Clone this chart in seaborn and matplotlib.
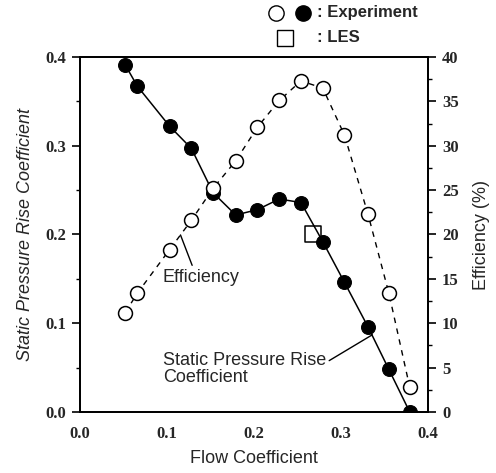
import matplotlib
matplotlib.use("Agg")
import matplotlib.pyplot as plt
from matplotlib.lines import Line2D
from matplotlib.ticker import MultipleLocator
import seaborn as sns
import pandas as pd

# Data
flow = [0.052, 0.066, 0.103, 0.128, 0.153, 0.179, 0.204, 0.229, 0.254, 0.279, 0.304, 0.331, 0.355, 0.379]
pressure = [0.391, 0.367, 0.322, 0.297, 0.247, 0.222, 0.228, 0.240, 0.236, 0.192, 0.146, 0.096, 0.048, 0.0]
efficiency = [11.2, 13.4, 18.3, 21.6, 25.2, 28.3, 32.1, 35.1, 37.3, 36.5, 31.2, 22.3, 13.4, 2.8]
les_flow = [0.268]
les_pressure = [0.200]

x_ticks = [0.0, 0.1, 0.2, 0.3, 0.4]
y_ticks = [0.0, 0.1, 0.2, 0.3, 0.4]
eff_ticks = [0, 5, 10, 15, 20, 25, 30, 35, 40]

sns.set_style("white")
plt.rcParams['font.family'] = ['Liberation Sans', 'DejaVu Sans']

df = pd.DataFrame({"flow": flow, "pressure": pressure, "eff": efficiency})
les = pd.DataFrame({"flow": les_flow, "pressure": les_pressure})

fig = plt.figure(figsize=(4.96, 4.73), dpi=100)
ax = fig.add_axes([80/496, 1-412/473, (428-80)/496, (412-57)/473])
ax2 = ax.twinx()

sns.lineplot(data=df, x="flow", y="eff", ax=ax2, color="black", linestyle=(0, (4, 4)),
             lw=1, marker="o", markersize=10, markerfacecolor="white",
             markeredgecolor="black", markeredgewidth=1.1, sort=False)
sns.lineplot(data=df, x="flow", y="pressure", ax=ax, color="black", lw=1.1,
             marker="o", markersize=10, markerfacecolor="black",
             markeredgecolor="black", sort=False, zorder=3)
sns.scatterplot(data=les, x="flow", y="pressure", ax=ax, marker="s", s=130,
                facecolor="white", edgecolor="black", linewidth=1.1, zorder=2)

ax.set_xlim(0, 0.4)
ax.set_ylim(0, 0.4)
ax2.set_ylim(0, 40)
ax.set_xticks(x_ticks)
ax.set_yticks(y_ticks)
ax2.set_yticks(eff_ticks)
ax.xaxis.set_minor_locator(MultipleLocator(0.05))
ax.yaxis.set_minor_locator(MultipleLocator(0.05))
ax2.yaxis.set_minor_locator(MultipleLocator(2.5))

tick_font = dict(family="Liberation Serif", weight="bold", size=12)
ax.set_xticklabels([f"{v:.1f}" for v in x_ticks], fontdict=tick_font)
ax.set_yticklabels([f"{v:.1f}" for v in y_ticks], fontdict=tick_font)
ax2.set_yticklabels([str(v) for v in eff_ticks], fontdict=tick_font)

for a in (ax, ax2):
    a.tick_params(which="major", direction="out", length=6, width=1.2, color="black", pad=4)
    a.tick_params(which="minor", direction="out", length=3, width=1, color="black")
    for s in a.spines.values():
        s.set_color("black")
        s.set_linewidth(1.3)

ax.set_xlabel("Flow Coefficient", fontsize=13, labelpad=6)
ax.set_ylabel("Static Pressure Rise Coefficient", fontsize=13, style="italic", labelpad=8)
ax2.set_ylabel("Efficiency (%)", fontsize=13, labelpad=10)

# annotations
ax.annotate("Efficiency", xy=(0.1155, 0.1995), xytext=(0.095, 0.152),
            fontsize=13, ha="left", va="center",
            arrowprops=dict(arrowstyle="-", color="black", lw=1,
                            shrinkA=0, shrinkB=0, relpos=(0.4, 1.0)))
ax.annotate("Static Pressure Rise\nCoefficient", xy=(0.336, 0.087), xytext=(0.095, 0.048),
            fontsize=13, ha="left", va="center", linespacing=1.0,
            arrowprops=dict(arrowstyle="-", color="black", lw=1,
                            shrinkA=0, shrinkB=0, relpos=(1.0, 0.7)))

# legend at top
fig.add_artist(Line2D([276/496], [1-13/473], marker="o", markersize=11,
                      markerfacecolor="white", markeredgecolor="black", linestyle=""))
fig.add_artist(Line2D([303/496], [1-13/473], marker="o", markersize=11,
                      markerfacecolor="black", markeredgecolor="black", linestyle=""))
fig.add_artist(Line2D([285/496], [1-38/473], marker="s", markersize=11,
                      markerfacecolor="white", markeredgecolor="black", linestyle=""))
fig.text(317/496, 1-13/473, ": Experiment", fontsize=12, weight="bold", va="center", ha="left")
fig.text(317/496, 1-38/473, ": LES", fontsize=12, weight="bold", va="center", ha="left")

fig.savefig("out.png", dpi=100)
